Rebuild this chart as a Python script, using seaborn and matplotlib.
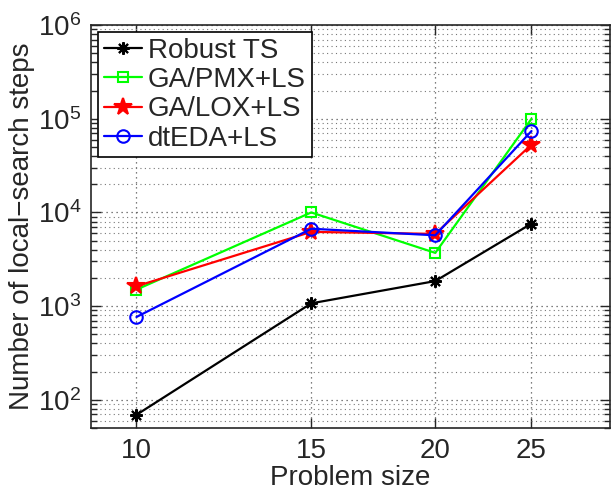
import matplotlib
matplotlib.use("Agg")
import matplotlib.pyplot as plt
import seaborn as sns
import pandas as pd
from matplotlib.ticker import LogLocator, NullLocator, FixedLocator, FixedFormatter

# data
sizes = [10, 15, 20, 25]
robust_ts = [69, 1070, 1850, 7600]
ga_pmx = [1500, 10000, 3700, 100000]
ga_lox = [1630, 6200, 5900, 53000]
dt_eda = [765, 6700, 5700, 74000]

sns.set_style("ticks")
plt.rcParams['font.family'] = ['Liberation Sans', 'DejaVu Sans']
plt.rcParams['xtick.direction'] = 'in'
plt.rcParams['ytick.direction'] = 'in'

fig = plt.figure(figsize=(6.15, 4.93), dpi=100)
ax = fig.add_axes([0.148, 0.132, 0.844, 0.817])

# series: (label, values, colour, marker, open marker?, size)
series = [
    ("Robust TS", robust_ts, "black", (8, 2, 0), False, 9),
    ("GA/PMX+LS", ga_pmx, "#00ff00", "s", True, 7),
    ("GA/LOX+LS", ga_lox, "red", "*", False, 13),
    ("dtEDA+LS", dt_eda, "blue", "o", True, 9),
]
for label, vals, col, mk, hollow, ms in series:
    df = pd.DataFrame({"size": sizes, "steps": vals})
    sns.lineplot(data=df, x="size", y="steps", ax=ax, color=col, marker=mk,
                 markersize=ms, linewidth=1.6, label=label,
                 markerfacecolor="none" if hollow else col,
                 markeredgecolor=col, markeredgewidth=1.5)

ax.set_xscale("log")
ax.set_yscale("log")
ax.set_xlim(9, 30)
ax.set_ylim(50, 1e6)
ax.xaxis.set_major_locator(FixedLocator(sizes))
ax.xaxis.set_major_formatter(FixedFormatter([str(s) for s in sizes]))
ax.xaxis.set_minor_locator(NullLocator())
ax.yaxis.set_major_locator(FixedLocator([1e2, 1e3, 1e4, 1e5, 1e6]))
ax.yaxis.set_minor_locator(LogLocator(base=10, subs=range(2, 10)))

ax.grid(True, which="major", linestyle=(0, (1, 3)), color="#555555", linewidth=0.9)
ax.grid(True, which="minor", axis="y", linestyle=(0, (1, 3)), color="#777777", linewidth=0.8)
ax.tick_params(which="both", top=True, right=True, labelsize=20, width=1)
ax.tick_params(which="major", length=7, pad=7)
ax.tick_params(which="minor", length=4)
for sp in ax.spines.values():
    sp.set_linewidth(1.2)

ax.set_xlabel("Problem size", fontsize=20, labelpad=1)
ax.set_ylabel("Number of local\u2212search steps", fontsize=20, labelpad=2)

leg = ax.legend(loc="upper left", fontsize=20, frameon=True, fancybox=False,
                edgecolor="black", borderpad=0.2, labelspacing=0.12,
                handlelength=1.4, handletextpad=0.2, borderaxespad=0.25)
leg.get_frame().set_linewidth(1.2)
leg.get_frame().set_alpha(1)

fig.savefig("out.png", dpi=100)
